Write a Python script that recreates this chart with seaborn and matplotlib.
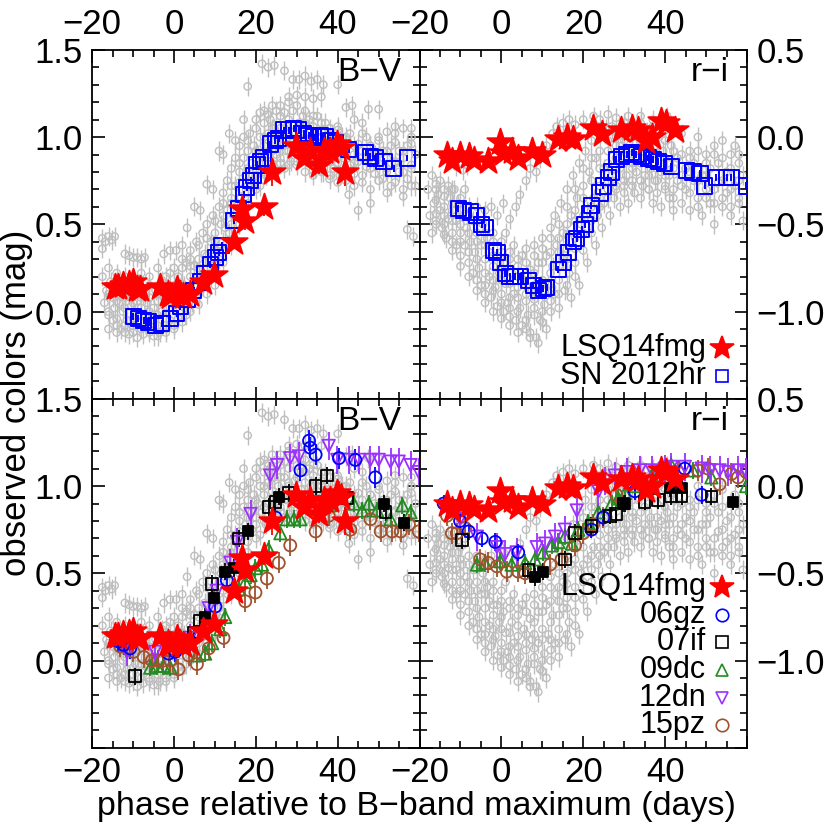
import matplotlib
matplotlib.use("Agg")
import matplotlib.pyplot as plt
import seaborn as sns
from matplotlib.ticker import MultipleLocator, FixedLocator, FixedFormatter

# ---------------- data ----------------
# gray comparison cloud, B-V (scattered members)
gray_bv_phase = [-17.5,-17,-16.5,-16,-15.5,-15,-15,-14.5,-14,-14,-13.5,-13,-13,-12.5,-12,-12,-11.5,-11,-11,-10.5,
                 -10,-10,-9.5,-9,-9,-8.5,-8,-8,-7.5,-7,-7,-6.5,-6,-6,-5.5,-5,-5,-4.5,-4,-4,
                 -3.5,-3,-3,-2.5,-2,-2,-1.5,-1,-1,-0.5,0,0,0.5,1,1,1.5,2,2,2.5,3,
                 3,3.5,4,4,4.5,5,5,5.5,6,6,6.5,7,7,7.5,8,8,8.5,9,9,9.5,
                 10,10,10.5,11,11,11.5,12,12,12.5,13,13,13.5,14,14,14.5,15,15,15.5,16,16,
                 16.5,17,17,17.5,18,18,18.5,19,19,19.5,20,20,20.5,21,21,21.5,22,22,22.5,23,
                 23,23.5,24,24,24.5,25,25,25.5,26,26,26.5,27,27,27.5,28,28,28.5,29,29,29.5,
                 30,30,30.5,31,31,31.5,32,32,32.5,33,33,33.5,34,34,34.5,35,35,35.5,36,36,
                 36.5,37,37,37.5,38,38,38.5,39,39,39.5,40,40,40.5,41,41,41.5,42,42,43,43,
                 44,44,45,45,46,46,47,47,48,48,49,49,50,50,51,51,52,52,53,53,
                 54,54,55,55,56,56,57,57,58,58,59,59,
                 -17.5,-16.8,-16,-15.2,-14.5,-17.5,-12,-11,-10,-9,-8,-7.2,-2.5,-1,0.5,2,3.2,5,6.4,8,
                 9.5,11,12,13.5,15,17,18,21.5,23,24.5,27,29,30.5,32,33.5,35,36.5,28,30,32,
                 34,36,40,42,43.5,47.5,50,21,23,25,27,44,46,52,54,56,58,57,58.5,45,48,42.7]
gray_bv_value = [0.20,0.05,0.12,-0.02,0.17,0.08,-0.05,0.02,0.12,-0.08,0.05,-0.10,0.15,0.00,-0.12,0.08,-0.05,0.10,-0.13,0.03,
                 -0.08,0.13,-0.02,-0.15,0.06,0.16,-0.06,0.02,-0.13,0.10,-0.03,0.05,-0.12,0.15,-0.05,0.02,-0.14,0.12,-0.08,0.06,
                 -0.12,0.00,0.18,0.09,-0.10,0.03,0.14,-0.05,0.22,0.06,-0.08,0.15,0.02,0.20,-0.04,0.10,0.25,0.03,0.15,-0.02,
                 0.28,0.08,0.20,0.35,0.05,0.26,0.14,0.40,0.10,0.30,0.20,0.45,0.15,0.33,0.25,0.50,0.18,0.40,0.30,0.55,
                 0.25,0.45,0.35,0.60,0.30,0.50,0.40,0.68,0.48,0.58,0.75,0.45,0.65,0.82,0.55,0.72,0.88,0.62,0.80,0.95,
                 0.70,0.88,1.00,0.78,0.92,0.68,1.02,0.85,0.75,0.95,1.05,0.82,0.90,0.72,1.00,0.85,1.08,0.95,0.78,0.90,
                 1.02,1.10,0.85,0.97,1.05,0.90,0.80,1.00,1.12,0.88,0.95,1.05,0.82,0.92,1.10,1.00,0.86,0.95,1.15,1.03,
                 0.90,0.84,1.08,0.98,0.92,1.12,0.88,1.02,0.95,1.10,0.85,1.00,0.92,1.06,0.82,0.97,1.12,0.88,1.03,0.92,
                 0.80,0.98,1.08,0.86,0.94,0.76,1.02,0.90,0.82,0.97,1.06,0.85,0.78,0.93,1.00,0.88,0.75,0.95,0.84,1.02,
                 0.90,0.79,0.96,0.86,0.92,0.74,1.00,0.83,0.88,0.95,0.79,0.90,0.85,0.98,0.76,0.92,0.88,0.82,0.95,0.72,
                 0.86,1.02,0.80,0.92,0.70,0.88,0.95,0.76,0.84,1.05,0.72,0.90,
                 0.42,0.40,0.43,0.41,0.43,0.36,0.33,0.32,0.31,0.31,0.30,0.31,0.33,0.35,0.35,0.38,0.48,0.60,0.58,0.73,
                 0.70,0.92,0.90,1.02,0.98,1.10,1.29,1.42,1.40,1.41,1.38,1.33,1.33,1.35,1.32,1.33,1.30,1.23,1.24,1.23,
                 1.22,1.23,1.30,1.17,1.18,1.16,1.16,1.14,1.13,1.15,1.14,1.10,1.08,1.03,1.06,1.05,1.00,0.47,0.43,0.58,0.62,0.67]
# gray comparison cloud, B-V (dense core)
gray_bv_core_phase = [-16,-16,-16,-16,-14,-14,-14,-14,-12,-12,-12,-12,-10,-10,-10,-10,-8,-8,-8,-8,
                      -6,-6,-6,-6,-4,-4,-4,-4,-2,-2,-2,-2,0,0,0,0,2,2,2,2,
                      4,4,4,4,6,6,6,6,8,8,8,8,10,10,10,10,12,12,12,12,
                      14,14,14,14,16,16,16,16,18,18,18,18,20,20,20,20,22,22,22,22,
                      24,24,24,24,26,26,26,26,28,28,28,28,30,30,30,30,32,32,32,32,
                      34,34,34,34,36,36,36,36,38,38,38,38,40,40,40,40,42,42,42,44,44,44,
                      46,46,46,48,48,48,50,50,50,52,52,52,54,54,54,56,56,56,58,58,58]
gray_bv_core_value = [-0.10,0.00,0.10,0.25,-0.12,-0.04,0.06,0.22,-0.08,0.02,0.10,0.20,-0.12,-0.04,0.05,0.18,-0.10,-0.02,0.08,0.22,
                      -0.10,0.00,0.08,0.20,-0.14,-0.02,0.10,0.25,-0.12,-0.04,0.08,0.20,-0.10,0.04,0.10,0.25,-0.06,0.08,0.16,0.30,
                      0.00,0.12,0.26,0.30,0.04,0.18,0.25,0.38,0.10,0.20,0.32,0.42,0.15,0.35,0.40,0.52,0.28,0.35,0.55,0.62,
                      0.38,0.50,0.62,0.72,0.50,0.58,0.74,0.85,0.62,0.72,0.82,0.98,0.70,0.78,0.92,1.10,0.80,0.88,1.00,1.15,
                      0.82,0.92,1.05,1.18,0.85,0.95,1.05,1.18,0.84,0.92,1.02,1.20,0.86,0.96,1.05,1.18,0.80,0.93,1.08,1.15,
                      0.78,0.90,1.00,1.12,0.80,0.88,1.00,1.08,0.78,0.86,0.98,1.05,0.74,0.88,0.95,1.04,0.80,0.90,1.00,0.72,0.85,0.95,
                      0.78,0.88,1.02,0.70,0.82,0.95,0.75,0.90,1.00,0.68,0.80,0.92,0.74,0.85,0.97,0.66,0.80,0.92,0.72,0.82,0.96]

# gray comparison cloud, r-i (scattered members)
gray_ri_phase = [-18,-17.5,-17,-17,-16.5,-16,-16,-15.5,-15,-15,-14.5,-14,-14,-13.5,-13,-13,-12.5,-12,-12,-11.5,
                 -11,-11,-10.5,-10,-10,-9.5,-9,-9,-8.5,-8,-8,-7.5,-7,-7,-6.5,-6,-6,-5.5,-5,-5,
                 -4.5,-4,-4,-3.5,-3,-3,-2.5,-2,-2,-1.5,-1,-1,-0.5,0,0,0.5,0.5,1,1,
                 1.5,2,2,2.5,3,3,3.5,4,4,4.5,5,5,5.5,6,6,6.5,7,7,7.5,8,8,8.5,9,9,9.5,10,10,10.5,11,11,
                 11.5,12,12,12.5,13,13,13.5,14,14,14.5,15,15,15.5,16,16,16.5,17,17,17.5,18,18,18.5,19,19,19.5,20,20,20.5,21,21,
                 21.5,22,22,22.5,23,23,23.5,24,24,24.5,25,25,25.5,26,26,26.5,27,27,27.5,28,28,28.5,29,29,29.5,30,30,30.5,31,31,
                 31.5,32,32,32.5,33,33,33.5,34,34,34.5,35,35,35.5,36,36,36.5,37,37,37.5,38,38,38.5,39,39,39.5,40,40,40.5,41,41,41.5,42,42,43,43,44,44,45,45,
                 46,46,47,47,48,48,49,49,50,50,51,51,52,52,53,53,54,54,55,55,56,56,57,57,58,58,59,59,
                 -4,-2.5,-1,0.5,2,3.5,4.5,6,7,8.5,9.5,11,12.5,13.5,15,16.5,18,20,22.5,24,26,28,31,34,37,40.5,42.5,
                 -11,-9.5,-8.5,7,9]
gray_ri_value = [-0.30,-0.45,-0.22,-0.55,-0.38,-0.27,-0.48,-0.33,-0.42,-0.25,-0.52,-0.30,-0.40,-0.58,-0.28,-0.47,-0.35,-0.55,-0.42,-0.30,
                 -0.62,-0.48,-0.38,-0.55,-0.68,-0.45,-0.30,-0.62,-0.52,-0.72,-0.40,-0.60,-0.48,-0.78,-0.66,-0.55,-0.40,-0.75,-0.62,-0.85,
                 -0.50,-0.70,-0.90,-0.58,-0.80,-0.66,-0.92,-0.74,-0.55,-0.86,-0.68,-0.97,-0.78,-0.60,-0.90,-1.00,-0.72,-0.84,-0.55,
                 -0.95,-0.66,-1.03,-0.78,-0.90,-0.62,-1.05,-0.74,-0.86,-0.98,-0.68,-1.08,-0.82,-0.94,-0.64,-1.02,-0.76,-1.12,-0.88,-0.98,-0.62,-1.15,-0.72,-0.90,-1.05,-0.58,-0.82,-0.96,-1.10,-0.68,
                 -0.85,-0.52,-1.00,-0.74,-0.90,-0.45,-0.62,-0.82,-0.98,-0.38,-0.70,-0.55,-0.88,-0.30,-0.64,-0.78,-0.45,-0.92,-0.22,-0.58,-0.72,-0.35,-0.85,-0.15,-0.50,-0.65,-0.28,-0.08,-0.42,-0.72,
                 -0.20,-0.55,-0.02,-0.35,-0.62,-0.12,-0.45,0.03,-0.28,-0.52,-0.18,-0.38,0.05,-0.30,-0.08,-0.45,-0.22,0.06,-0.35,-0.12,-0.28,0.02,-0.40,-0.18,-0.05,-0.32,0.08,-0.22,-0.10,-0.38,
                 0.05,-0.25,-0.15,-0.32,0.02,-0.20,-0.08,-0.35,0.08,-0.28,-0.12,-0.22,0.03,-0.30,-0.05,-0.18,-0.38,0.06,-0.25,-0.10,-0.32,0.00,-0.20,-0.40,-0.08,-0.28,0.04,-0.15,-0.35,-0.22,-0.05,-0.30,-0.42,-0.12,-0.25,0.02,-0.38,-0.18,-0.30,
                 -0.08,-0.42,-0.25,-0.15,-0.35,0.00,-0.22,-0.45,-0.10,-0.30,-0.38,-0.18,-0.05,-0.50,-0.26,-0.15,-0.40,-0.02,-0.32,-0.20,-0.10,-0.45,-0.28,-0.05,-0.38,-0.15,-0.22,-0.48,
                 -0.42,-0.40,-0.45,-0.38,-0.47,-0.40,-0.33,-0.25,-0.18,-0.20,-0.12,-0.05,0.02,0.06,0.08,0.10,0.07,0.10,0.12,0.10,0.13,0.11,0.12,0.12,0.10,0.12,0.06,
                 -0.17,-0.19,-0.16,-1.15,-1.18]
# gray comparison cloud, r-i (dense core)
gray_ri_core_phase = [-16,-16,-16,-16,-14,-14,-14,-14,-12,-12,-12,-12,-12,-10,-10,-10,-10,-10,-8,-8,-8,-8,
                      -6,-6,-6,-6,-6,-4,-4,-4,-4,-4,-2,-2,-2,-2,-2,0,0,0,0,0,2,2,2,2,2,4,4,4,4,4,
                      6,6,6,6,6,8,8,8,8,8,10,10,10,10,10,12,12,12,12,12,14,14,14,14,14,16,16,16,16,16,
                      18,18,18,18,18,20,20,20,20,22,22,22,22,24,24,24,24,26,26,26,26,28,28,28,28,
                      30,30,30,30,32,32,32,32,34,34,34,36,36,36,36,38,38,38,40,40,40,40,42,42,42,
                      44,44,44,46,46,46,48,48,48,50,50,50,52,52,52,54,54,54,56,56,56,58,58,58]
gray_ri_core_value = [-0.30,-0.36,-0.44,-0.50,-0.34,-0.45,-0.50,-0.56,-0.30,-0.38,-0.48,-0.60,-0.65,-0.35,-0.42,-0.50,-0.60,-0.74,-0.45,-0.55,-0.66,-0.80,
                      -0.48,-0.60,-0.70,-0.82,-0.88,-0.55,-0.62,-0.78,-0.85,-0.95,-0.60,-0.68,-0.82,-0.88,-1.00,-0.66,-0.75,-0.82,-0.95,-1.04,-0.70,-0.84,-0.92,-0.98,-1.08,-0.70,-0.80,-0.92,-1.00,-1.12,
                      -0.72,-0.85,-0.90,-1.05,-1.10,-0.68,-0.78,-0.85,-0.93,-1.02,-0.64,-0.72,-0.88,-1.00,-1.06,-0.58,-0.66,-0.78,-0.88,-0.94,-0.50,-0.58,-0.66,-0.74,-0.90,-0.40,-0.50,-0.56,-0.70,-0.85,
                      -0.30,-0.42,-0.48,-0.64,-0.80,-0.18,-0.35,-0.45,-0.55,-0.12,-0.25,-0.40,-0.48,-0.08,-0.18,-0.35,-0.40,-0.02,-0.15,-0.25,-0.35,0.00,-0.05,-0.22,-0.30,
                      -0.02,-0.15,-0.25,-0.28,0.00,-0.08,-0.18,-0.28,-0.02,-0.15,-0.25,0.02,-0.10,-0.22,-0.30,-0.05,-0.18,-0.25,-0.02,-0.12,-0.22,-0.30,-0.08,-0.18,-0.35,
                      -0.10,-0.22,-0.28,-0.12,-0.20,-0.32,-0.08,-0.25,-0.40,-0.15,-0.22,-0.35,-0.10,-0.30,-0.38,-0.12,-0.25,-0.35,-0.18,-0.30,-0.40,-0.10,-0.25,-0.35]

# LSQ14fmg
lsq_bv_phase = [-14.5,-13.6,-12.5,-11.0,-9.9,-9.0,-8.3,-3.4,-1.5,-0.9,0.7,1.5,2.3,4.0,7.2,9.7,14.6,16.6,17.4,21.9,
                24.0,29.7,31.7,33.3,35.4,36.6,38.2,39.9,40.7,41.9]
lsq_bv = [0.14,0.14,0.15,0.16,0.17,0.13,0.13,0.14,0.10,0.09,0.13,0.10,0.09,0.10,0.17,0.21,0.40,0.59,0.52,0.60,
          0.80,0.95,0.88,0.92,0.84,0.92,0.92,0.96,0.94,0.80]
lsq_bv_err = [0.03,0.03,0.03,0.03,0.03,0.03,0.03,0.03,0.03,0.03,0.03,0.03,0.03,0.03,0.03,0.04,0.04,0.05,0.05,0.05,
              0.08,0.04,0.04,0.04,0.05,0.04,0.04,0.04,0.05,0.08]
lsq_ri_phase = [-13.3,-12.1,-10.1,-8.0,-6.8,-3.2,-0.3,0.5,2.5,4.1,7.4,9.8,13.9,15.9,17.6,22.4,24.5,29.3,31.8,33.4,
                35.4,36.7,39.1,40.3,42.4]
lsq_ri = [-0.10,-0.14,-0.10,-0.11,-0.13,-0.14,-0.03,-0.09,-0.08,-0.12,-0.08,-0.10,-0.01,0.00,-0.01,0.05,0.02,0.04,0.05,0.04,
          -0.02,0.00,0.09,0.08,0.04]

# SN 2012hr
hr_bv_phase = [-9.9,-8.7,-7.4,-6.2,-4.6,-3.0,-0.9,0.7,1.5,3.2,4.8,6.4,7.6,8.9,10.1,10.9,11.7,14.6,15.8,17.0,17.8,
               18.7,19.5,20.3,21.1,21.9,23.5,24.8,25.6,26.8,28.0,29.2,30.5,31.7,32.9,34.1,35.8,37.0,38.2,39.4,42.7,
               46.8,48.0,49.2,51.3,53.7,57.0]
hr_bv = [-0.03,-0.04,-0.05,-0.06,-0.08,-0.07,-0.04,-0.01,0.03,0.07,0.12,0.17,0.22,0.27,0.31,0.34,0.38,0.52,0.59,0.67,0.71,
         0.75,0.78,0.84,0.86,0.88,0.96,0.98,0.99,1.04,1.04,1.05,1.04,1.02,1.01,1.00,1.01,1.00,0.98,0.97,0.93,
         0.91,0.89,0.88,0.86,0.82,0.88]
hr_ri_phase = [-10.5,-9.3,-7.6,-6.0,-4.8,-4.0,-2.0,-1.1,-0.3,0.9,2.1,3.3,4.6,6.6,7.8,9.0,10.2,11.1,13.9,15.1,
               16.3,17.6,18.4,19.6,20.4,21.6,22.0,24.1,24.9,26.1,26.9,28.1,29.3,30.6,31.8,33.0,34.2,35.9,37.1,38.3,
               39.9,41.5,45.2,46.8,48.5,49.7,52.5,55.0,56.2,59.8]
hr_ri = [-0.41,-0.42,-0.43,-0.45,-0.50,-0.52,-0.65,-0.66,-0.72,-0.78,-0.80,-0.80,-0.80,-0.82,-0.85,-0.88,-0.87,-0.86,-0.76,-0.72,
         -0.66,-0.60,-0.58,-0.53,-0.50,-0.44,-0.39,-0.32,-0.28,-0.23,-0.20,-0.13,-0.11,-0.10,-0.09,-0.10,-0.11,-0.12,-0.13,-0.14,
         -0.15,-0.17,-0.19,-0.20,-0.21,-0.28,-0.23,-0.23,-0.23,-0.28]

# comparison SNe, B-V
gz06_bv_phase = [-13.6,-12.3,-10.7,-1.3,0.3,4.0,10.1,12.9,24.8,30.9,33.0,33.3,34.6,40.3,44.3,49.2]
gz06_bv = [0.11,0.09,0.07,0.04,0.05,0.11,0.31,0.46,0.82,1.09,1.26,1.22,1.18,1.16,1.15,1.05]
if07_bv_phase = [-9.5,4.8,6.4,9.3,15.8,23.1,24.8,28.0,34.6,37.4,42.3,51.7]
if07_bv = [-0.09,0.16,0.23,0.44,0.70,0.88,0.91,0.96,1.00,1.06,0.93,0.85]
if07b_bv_phase = [7.6,9.7,12.5,14.6,18.2,25.6,51.3,56.2]
if07b_bv = [0.25,0.36,0.51,0.53,0.74,0.94,0.90,0.79]
dc09_bv_phase = [-5.8,-4.2,-2.6,-0.9,5.6,7.6,9.3,11.3,12.5,15.8,17.4,18.7,19.9,21.5,23.1,26.0,27.6,29.3,30.9,
                 36.6,38.2,40.3,43.9,46.0,47.6,49.6,52.9,55.8,57.8]
dc09_bv = [-0.04,-0.03,-0.03,-0.04,0.03,0.04,0.10,0.18,0.25,0.41,0.45,0.49,0.53,0.55,0.64,0.73,0.81,0.81,0.81,
           0.89,0.89,0.98,0.90,0.86,0.90,0.86,0.81,0.89,0.85]
dn12_bv_phase = [-11.5,-4.6,4.0,8.5,10.5,13.8,15.4,18.7,23.5,25.2,28.4,30.5,37.8,39.9,42.7,45.2,48.0,50.0,52.9,54.9,57.8,59.8]
dn12_bv = [0.05,0.05,0.13,0.30,0.40,0.56,0.68,0.84,1.06,1.12,1.16,1.17,1.23,1.15,1.15,1.15,1.15,1.15,1.14,1.14,1.12,1.08]
pz15_bv_phase = [-13.1,-11.5,-9.9,-7.4,-5.4,-3.8,-2.6,-0.9,1.1,3.6,5.6,8.5,12.1,17.4,19.9,22.7,25.6,28.4,34.6,37.8,
                 43.1,48.0,50.5,53.3,55.4,57.4,59.8]
pz15_bv = [0.08,0.07,0.05,0.02,0.00,0.00,0.00,0.00,-0.05,0.03,-0.02,0.07,0.13,0.34,0.39,0.47,0.56,0.66,0.74,0.83,
           0.75,0.81,0.74,0.74,0.74,0.78,0.74]

# comparison SNe, r-i
gz06_ri_phase = [-14.1,-10.1,-8.0,-4.8,-1.5,4.1,22.0,24.9,32.6,44.8,48.9]
gz06_ri = [-0.10,-0.20,-0.26,-0.30,-0.32,-0.38,-0.25,-0.18,-0.03,0.10,-0.05]
if07_ri_phase = [-9.7,6.6,15.5,18.0,22.0,26.5,28.1,29.8,35.0,38.3,41.5,44.0,51.3]
if07_ri = [-0.31,-0.48,-0.42,-0.27,-0.23,-0.17,-0.16,-0.10,-0.09,-0.08,-0.06,-0.06,-0.06]
if07b_ri_phase = [8.2,10.2,30.2,41.1,44.0,56.6]
if07b_ri = [-0.52,-0.49,-0.10,-0.01,-0.01,-0.09]
dc09_ri_phase = [-6.0,-4.0,-0.3,2.5,5.8,8.2,10.2,12.3,13.9,15.5,17.2,18.8,21.2,23.7,26.9,28.5,30.2,32.6,36.7,41.5,46.8,51.3,59.8]
dc09_ri = [-0.45,-0.44,-0.43,-0.45,-0.44,-0.42,-0.38,-0.34,-0.32,-0.29,-0.33,-0.25,-0.21,-0.15,-0.10,-0.07,-0.04,0.00,0.06,0.12,0.09,0.05,0.00]
dn12_ri_phase = [-13.3,-10.1,-6.0,-1.1,0.9,3.7,8.6,10.7,13.1,15.5,18.4,23.7,25.3,27.7,30.6,33.8,36.7,39.9,41.5,44.8,
                 48.9,50.9,53.3,55.4,57.8,59.8]
dn12_ri = [-0.12,-0.19,-0.29,-0.35,-0.39,-0.38,-0.35,-0.33,-0.29,-0.25,-0.14,-0.03,0.03,0.06,0.08,0.09,0.09,0.10,0.11,0.11,
           0.10,0.09,0.09,0.08,0.09,0.08]
pz15_ri_phase = [-13.3,-12.1,-10.9,-8.9,-5.2,-3.2,-1.1,1.3,4.1,5.8,11.9,14.7,18.0,20.0,22.4,24.9,28.1,43.2,48.0,50.5,
                 53.3,56.2,57.8,59.8]
pz15_ri = [-0.17,-0.27,-0.27,-0.24,-0.42,-0.44,-0.46,-0.49,-0.49,-0.50,-0.45,-0.42,-0.34,-0.27,-0.22,-0.18,-0.05,0.08,0.09,0.10,
           0.01,0.07,0.05,0.08]

x_ticks = [-20, 0, 20, 40, 60]
x_ticklabels = ["\u221220", "0", "20", "40", ""]
bv_ticks = [-0.5, 0.0, 0.5, 1.0, 1.5]
bv_ticklabels = ["", "0.0", "0.5", "1.0", "1.5"]
ri_ticks = [-1.5, -1.0, -0.5, 0.0, 0.5]
ri_ticklabels = ["", "\u22121.0", "\u22120.5", "0.0", "0.5"]

# ---------------- style ----------------
sns.set_theme(style="ticks")
plt.rcParams["font.family"] = ["Liberation Sans", "DejaVu Sans"]
for k in ("text.color", "axes.labelcolor", "xtick.color", "ytick.color", "axes.edgecolor"):
    plt.rcParams[k] = "black"
FS = 25
FS_LEG = 22
GRAY = "#bebebe"
RED = "#ff0000"
BLUE = "#0000ff"
GREEN = "#228b22"
PURPLE = "#9b30ff"
BROWN = "#a0522d"

fig, axes = plt.subplots(2, 2, figsize=(8.3, 8.3), dpi=100)
fig.subplots_adjust(left=0.111, right=0.9, top=0.94, bottom=0.099, wspace=0, hspace=0)


def series(ax, x, y, err, marker, color, size, filled=False, lw=1.3, z=3):
    ax.errorbar(x, y, yerr=err, fmt="none", ecolor=color, elinewidth=lw, capsize=0, zorder=z)
    sns.scatterplot(x=x, y=y, marker=marker, s=size, color=color,
                    facecolor=color if filled else "none", edgecolor=color,
                    linewidth=lw, ax=ax, zorder=z + 0.1, legend=False)


def style_axis(ax, kind, top_row):
    ax.set_xlim(-20, 60)
    if kind == "bv":
        ax.set_ylim(-0.5, 1.5)
        yt, yl = bv_ticks, bv_ticklabels
    else:
        ax.set_ylim(-1.5, 0.5)
        yt, yl = ri_ticks, ri_ticklabels
    ax.xaxis.set_major_locator(FixedLocator(x_ticks))
    ax.xaxis.set_major_formatter(FixedFormatter(x_ticklabels))
    ax.xaxis.set_minor_locator(MultipleLocator(5))
    ax.yaxis.set_major_locator(FixedLocator(yt))
    ax.yaxis.set_major_formatter(FixedFormatter(yl))
    ax.yaxis.set_minor_locator(MultipleLocator(0.1))
    ax.tick_params(which="both", direction="in", top=True, bottom=True, left=True, right=True,
                   width=1.2, colors="black", labelcolor="black", labelsize=FS)
    ax.tick_params(which="major", length=9)
    ax.tick_params(which="minor", length=5)
    ax.tick_params(axis="x", which="both", labeltop=top_row, labelbottom=not top_row, pad=6)
    if kind == "bv":
        ax.tick_params(axis="y", which="both", labelleft=True, labelright=False, pad=7)
    else:
        ax.tick_params(axis="y", which="both", labelleft=False, labelright=True, pad=7)
    for sp in ax.spines.values():
        sp.set_linewidth(1.3)
        sp.set_color("black")
    ax.set_xlabel("")
    ax.set_ylabel("")
    ax.grid(False)
    ax.set_facecolor("white")


GERR = 0.055
ax_tl, ax_tr = axes[0]
ax_bl, ax_br = axes[1]

for ax in (ax_tl, ax_bl):
    series(ax, gray_bv_phase, gray_bv_value, GERR, "o", GRAY, 28, lw=1.0, z=1)
    series(ax, gray_bv_core_phase, gray_bv_core_value, GERR, "o", GRAY, 28, lw=1.0, z=1)
for ax in (ax_tr, ax_br):
    series(ax, gray_ri_phase, gray_ri_value, GERR, "o", GRAY, 28, lw=1.0, z=1)
    series(ax, gray_ri_core_phase, gray_ri_core_value, GERR, "o", GRAY, 28, lw=1.0, z=1)

# top panels
series(ax_tl, hr_bv_phase, hr_bv, 0.02, "s", BLUE, 120, lw=1.4, z=4)
series(ax_tl, lsq_bv_phase, lsq_bv, lsq_bv_err, "*", RED, 400, filled=True, lw=1.3, z=6)
series(ax_tr, hr_ri_phase, hr_ri, 0.02, "s", BLUE, 120, lw=1.4, z=4)
series(ax_tr, lsq_ri_phase, lsq_ri, 0.03, "*", RED, 400, filled=True, lw=1.3, z=6)

# bottom panels
series(ax_bl, dc09_bv_phase, dc09_bv, 0.05, "^", GREEN, 80, z=3)
series(ax_bl, pz15_bv_phase, pz15_bv, 0.06, "o", BROWN, 75, z=3)
series(ax_bl, dn12_bv_phase, dn12_bv, 0.08, "v", PURPLE, 80, z=3)
series(ax_bl, gz06_bv_phase, gz06_bv, 0.06, "o", BLUE, 75, z=3)
series(ax_bl, if07_bv_phase, if07_bv, 0.05, "s", "black", 70, z=3)
series(ax_bl, if07b_bv_phase, if07b_bv, 0.05, "s", "black", 60, filled=True, z=3)
series(ax_bl, lsq_bv_phase, lsq_bv, lsq_bv_err, "*", RED, 400, filled=True, lw=1.3, z=6)

series(ax_br, dc09_ri_phase, dc09_ri, 0.05, "^", GREEN, 80, z=3)
series(ax_br, pz15_ri_phase, pz15_ri, 0.06, "o", BROWN, 75, z=3)
series(ax_br, dn12_ri_phase, dn12_ri, 0.08, "v", PURPLE, 80, z=3)
series(ax_br, gz06_ri_phase, gz06_ri, 0.05, "o", BLUE, 75, z=3)
series(ax_br, if07_ri_phase, if07_ri, 0.05, "s", "black", 70, z=3)
series(ax_br, if07b_ri_phase, if07b_ri, 0.05, "s", "black", 60, filled=True, z=3)
series(ax_br, lsq_ri_phase, lsq_ri, 0.03, "*", RED, 400, filled=True, lw=1.3, z=6)

style_axis(ax_tl, "bv", True)
style_axis(ax_tr, "ri", True)
style_axis(ax_bl, "bv", False)
style_axis(ax_br, "ri", False)

for ax, lab in ((ax_tl, "B\u2212V"), (ax_bl, "B\u2212V"), (ax_tr, "r\u2212i"), (ax_br, "r\u2212i")):
    ax.text(0.945, 0.935, lab, transform=ax.transAxes, ha="right", va="center", fontsize=24, zorder=10)

# legends (text right-aligned, symbol after text)
def legend_rows(ax, entries, y0, dy):
    for i, (lab, mk, col, ms, filled) in enumerate(entries):
        y = y0 - i * dy
        ax.text(0.875, y, lab, transform=ax.transAxes, ha="right", va="center", fontsize=FS_LEG, zorder=10)
        ax.plot([0.925], [y], transform=ax.transAxes, marker=mk, ms=ms, ls="none",
                mfc=col if filled else "none", mec=col, mew=1.2, clip_on=False, zorder=10)

legend_rows(ax_tr, [("LSQ14fmg", "*", RED, 18, True), ("SN 2012hr", "s", BLUE, 9, False)], 0.145, 0.08)
legend_rows(ax_br, [("LSQ14fmg", "*", RED, 18, True), ("06gz", "o", BLUE, 9, False), ("07if", "s", "black", 9, False),
                    ("09dc", "^", GREEN, 9, False), ("12dn", "v", PURPLE, 9, False), ("15pz", "o", BROWN, 9, False)],
            0.46, 0.079)

fig.text(416 / 830, 1 - 806 / 830, "phase relative to B\u2212band maximum (days)", ha="center", va="center", fontsize=24.5)
fig.text(17 / 830, 1 - 403 / 830, "observed colors (mag)", ha="center", va="center", rotation=90, fontsize=FS)

fig.savefig("out.png", dpi=100, facecolor="white")
